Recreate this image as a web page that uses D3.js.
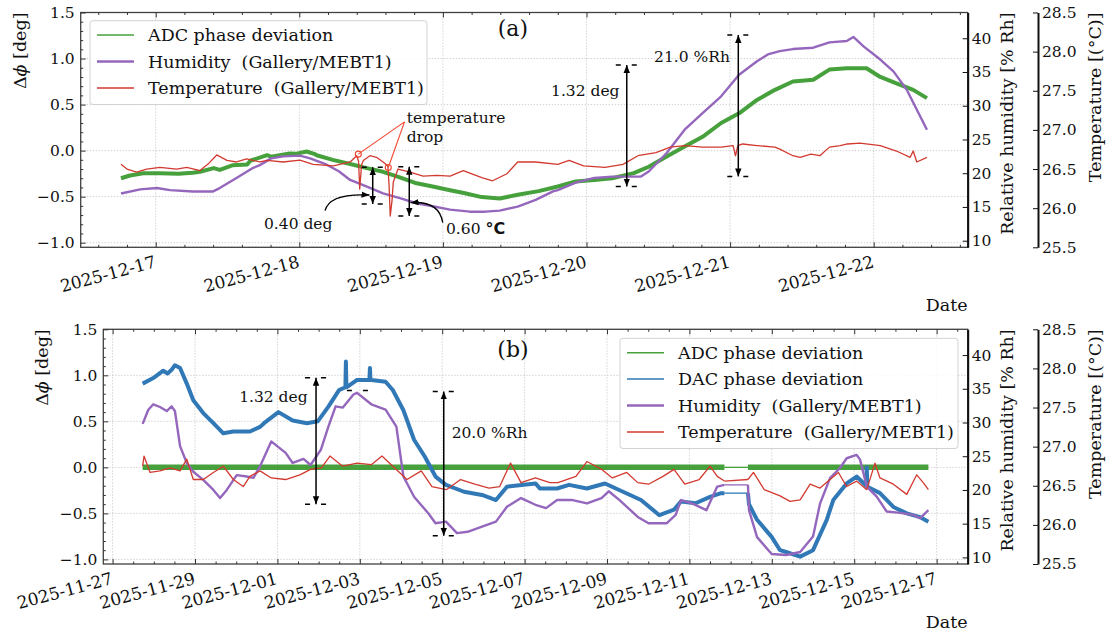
<!DOCTYPE html>
<html>
<head>
<meta charset="utf-8">
<script src="https://cdn.jsdelivr.net/npm/d3@7"></script>
<style>
body { margin: 0; background: #fff; }
svg text { font-family: "DejaVu Serif", serif; fill: #111; white-space: pre; }
</style>
</head>
<body>
<div id="chart"></div>
<script>
// ---------- data, panel (a): hours from 2025-12-17 00:00 ----------
var baseA = "2025-12-17";
var ticksA = ["2025-12-17", "2025-12-18", "2025-12-19", "2025-12-20", "2025-12-21", "2025-12-22"];

var adcA = [[-5.8,-0.30],[-4.3,-0.27],[-2.1,-0.245],[0.7,-0.245],[3.8,-0.25],[6.2,-0.24],[7.4,-0.23],[9.7,-0.19],
  [10.7,-0.21],[12.8,-0.16],[15.3,-0.15],[15.8,-0.11],[18.6,-0.05],[19.3,-0.065],[22.4,-0.03],[23.4,-0.035],
  [25.2,-0.01],[26.5,-0.035],[26.9,-0.05],[29.6,-0.10],[32.5,-0.145],[35.3,-0.19],[38.0,-0.23],[40.8,-0.29],
  [43.6,-0.355],[46.3,-0.39],[49.2,-0.43],[51.5,-0.46],[54.5,-0.505],[57.5,-0.52],[60.5,-0.48],[64.0,-0.44],
  [67.2,-0.39],[70.2,-0.335],[73.3,-0.32],[76.3,-0.30],[79.9,-0.245],[82.4,-0.175],[85.4,-0.065],[88.4,0.045],
  [91.4,0.15],[94.5,0.30],[97.5,0.405],[100.5,0.55],[103.5,0.66],[106.5,0.75],[109.9,0.77],[112.6,0.88],
  [115.5,0.895],[118.8,0.895],[121.1,0.80],[123.8,0.73],[126.6,0.66],[128.9,0.57]];

var humA = [[-5.8,17.0],[-2.6,17.6],[0.2,17.8],[2.4,17.5],[6.2,17.3],[9.6,17.3],[10.7,17.8],[13.5,19.3],
  [16.3,20.8],[17.4,21.2],[19.3,22.2],[21.3,22.5],[24.1,22.6],[25.8,22.2],[28.5,21.3],[30.6,20.3],[32.5,19.0],
  [35.3,18.0],[38.0,17.0],[40.8,16.3],[43.6,15.55],[46.3,15.1],[49.2,14.6],[52.5,14.3],[55.1,14.3],[57.5,14.45],
  [60.5,15.05],[63.5,16.05],[66.4,17.3],[67.2,17.5],[70.2,18.6],[73.3,19.3],[76.3,19.5],[81.1,19.5],[82.4,20.25],
  [85.4,23.0],[88.4,26.45],[91.4,28.9],[94.5,31.4],[97.5,34.6],[100.5,36.6],[102.3,37.6],[104.3,38.1],
  [106.5,38.4],[109.9,38.6],[112.6,39.4],[115.5,39.6],[116.6,40.2],[118.3,38.8],[121.1,36.85],[123.3,35.1],
  [125.5,32.4],[128.9,26.45]];

var tempA = [[-5.8,26.56],[-4.8,26.50],[-3.2,26.46],[-1.5,26.50],[0.7,26.52],[3.5,26.50],[5.2,26.52],[7.4,26.48],
  [8.7,26.56],[10.2,26.68],[11.9,26.61],[13.5,26.59],[15.2,26.63],[17.4,26.59],[18.6,26.61],[21.3,26.59],
  [24.1,26.615],[26.3,26.56],[29.7,26.54],[32.5,26.59],[33.6,26.67],[33.9,26.60],[34.1,26.245],[34.4,26.55],
  [34.7,26.61],[35.8,26.67],[36.9,26.65],[38.0,26.59],[38.8,26.54],[39.0,26.30],[39.2,25.90],[39.5,26.10],
  [39.7,26.33],[40.5,26.50],[42.5,26.46],[44.7,26.41],[47.0,26.42],[49.2,26.41],[51.4,26.48],[54.5,26.39],
  [56.3,26.35],[58.7,26.44],[60.5,26.59],[63.5,26.59],[67.2,26.56],[69.1,26.61],[71.5,26.54],[75.1,26.52],
  [78.1,26.56],[80.6,26.67],[83.6,26.71],[86.0,26.78],[88.4,26.80],[91.4,26.78],[94.5,26.78],[96.5,26.80],
  [96.9,26.67],[97.3,26.80],[98.1,26.82],[100.5,26.80],[103.5,26.78],[104.3,26.755],[106.5,26.67],[107.7,26.65],
  [109.5,26.69],[111.0,26.67],[112.6,26.78],[114.4,26.80],[115.6,26.82],[117.7,26.83],[121.1,26.80],[123.8,26.73],
  [126.1,26.65],[126.6,26.73],[127.2,26.59],[128.9,26.65]];

// ---------- data, panel (b): hours from 2025-11-27 00:00 ----------
var baseB = "2025-11-27";
var ticksB = ["2025-11-27", "2025-11-29", "2025-12-01", "2025-12-03", "2025-12-05", "2025-12-07",
  "2025-12-09", "2025-12-11", "2025-12-13", "2025-12-15", "2025-12-17"];
var gapB = [356.4, 370.1];

var adcB = [[17.5,0.0],[356.4,0.0],[370.1,0.0],[475.2,0.0]];

var dacB = [[17.5,0.91],[23.7,0.97],[29.5,1.05],[32.0,1.02],[34.4,1.06],[36.3,1.11],[39.3,1.08],[43.2,0.91],
  [47.0,0.73],[52.8,0.59],[58.7,0.48],[64.5,0.37],[70.3,0.39],[78.1,0.39],[80.0,0.39],[85.9,0.44],[88.2,0.48],
  [96.6,0.60],[104.9,0.51],[113.2,0.48],[119.5,0.50],[125.7,0.66],[131.9,0.84],[135.6,0.87],[135.9,1.15],
  [136.2,0.87],[137.1,0.88],[142.4,0.95],[149.6,0.95],[149.9,1.08],[150.2,0.95],[150.7,0.95],[159.0,0.93],
  [163.2,0.84],[169.4,0.62],[175.6,0.30],[181.9,0.115],[188.1,-0.10],[194.2,-0.19],[204.7,-0.265],[215.2,-0.30],
  [223.3,-0.355],[229.7,-0.21],[246.3,-0.175],[249.0,-0.23],[258.9,-0.23],[265.9,-0.19],[276.3,-0.23],
  [286.8,-0.175],[297.3,-0.265],[307.8,-0.355],[318.5,-0.52],[327.0,-0.46],[331.1,-0.37],[339.6,-0.39],
  [348.0,-0.32],[354.4,-0.28],[356.4,-0.28],[370.1,-0.28],[370.7,-0.40],[375.4,-0.57],[383.9,-0.755],
  [388.8,-0.90],[392.3,-0.92],[400.5,-0.97],[408.0,-0.90],[416.0,-0.57],[419.8,-0.355],[427.6,-0.175],
  [433.4,-0.10],[439.0,-0.20],[439.3,0.0],[439.6,-0.21],[447.0,-0.28],[454.8,-0.43],[462.6,-0.50],
  [470.3,-0.54],[475.2,-0.59]];

var humB = [[17.5,29.8],[20.8,31.9],[23.7,32.7],[27.6,32.3],[31.5,31.7],[34.4,32.4],[36.3,31.7],[39.3,26.5],
  [43.2,24.0],[47.0,22.7],[52.8,21.5],[58.7,20.0],[62.6,18.8],[66.5,20.0],[72.3,22.2],[78.1,22.0],[82.0,21.8],
  [85.9,23.5],[92.4,27.2],[100.8,25.5],[104.9,24.0],[111.2,24.6],[115.3,23.7],[121.4,26.0],[125.7,29.4],
  [129.9,32.4],[134.0,32.2],[140.3,34.15],[142.4,34.4],[150.7,32.7],[159.0,31.9],[165.3,29.4],[169.4,22.0],
  [175.6,19.0],[184.0,16.5],[188.1,15.06],[194.2,15.3],[200.6,13.6],[206.8,13.8],[215.2,14.55],[223.3,15.3],
  [229.7,17.5],[237.9,18.8],[246.3,17.8],[252.5,17.3],[258.9,18.5],[268.0,18.5],[276.3,18.0],[284.8,18.8],
  [289.0,19.8],[295.3,18.5],[305.9,16.0],[312.2,15.06],[322.7,15.06],[328.0,16.3],[331.1,18.5],[337.5,18.0],
  [345.9,17.0],[352.2,20.5],[356.4,20.75],[370.1,20.75],[370.7,17.0],[375.4,13.0],[383.9,10.5],[392.3,10.35],
  [400.5,10.8],[408.0,13.1],[412.1,18.0],[417.9,21.75],[423.7,23.25],[427.6,24.7],[433.4,25.2],[435.4,24.5],
  [439.3,20.5],[445.1,19.0],[450.9,16.8],[458.7,16.6],[466.4,16.3],[470.3,15.8],[475.2,17.0]];

var tempB = [[17.5,26.75],[18.3,26.88],[21.8,26.67],[27.6,26.69],[33.4,26.73],[39.3,26.69],[43.2,26.84],
  [47.0,26.58],[52.8,26.58],[58.7,26.67],[64.5,26.75],[70.3,26.58],[76.1,26.49],[80.0,26.62],[85.9,26.69],
  [92.4,26.60],[100.8,26.58],[109.1,26.64],[115.3,26.71],[121.6,26.73],[126.6,26.88],[134.0,26.75],[142.4,26.79],
  [150.7,26.77],[156.9,26.88],[163.2,26.75],[171.5,26.58],[179.8,26.69],[186.0,26.49],[194.4,26.45],[202.7,26.58],
  [211.0,26.52],[219.3,26.47],[225.5,26.49],[231.8,26.79],[237.9,26.54],[246.3,26.60],[254.7,26.54],[259.4,26.54],
  [269.9,26.62],[276.3,26.81],[284.8,26.71],[291.1,26.60],[299.5,26.67],[305.9,26.54],[312.2,26.52],[320.6,26.62],
  [327.0,26.71],[333.3,26.52],[341.7,26.58],[348.0,26.75],[352.2,26.62],[356.4,26.56],[370.1,26.58],[373.3,26.67],
  [379.6,26.45],[388.8,26.37],[394.6,26.30],[400.5,26.32],[406.3,26.52],[412.1,26.47],[417.9,26.58],[422.8,26.67],
  [427.6,26.49],[433.4,26.56],[439.3,26.45],[444.1,26.79],[447.0,26.60],[454.8,26.52],[462.6,26.39],[468.4,26.64],
  [472.2,26.54],[475.2,26.45]];

// ---------- axes ticks ----------
var degTicks = [-1.0, -0.5, 0.0, 0.5, 1.0, 1.5];
var humTicks = [10, 15, 20, 25, 30, 35, 40];
var tempTicks = [25.5, 26.0, 26.5, 27.0, 27.5, 28.0, 28.5];
var degDomain = [-1.05, 1.5];
var humDomain = [9.02, 43.82];
var tempDomain = [25.5, 28.5];

// ---------- annotations (data units) ----------
var arrowsA = [
  { t: 36.27, from: -0.18, to: -0.58, axis: "deg" },
  { t: 42.38, from: 26.53, to: 25.90, axis: "temp" },
  { t: 78.73, from: 0.93, to: -0.39, axis: "deg" },
  { t: 97.37, from: 40.49, to: 19.52, axis: "hum" }
];
var notesA = [
  { t: 66.07, v: 0.595, text: "1.32 deg" },
  { t: 83.3, v: 0.964, text: "21.0 %Rh" },
  { t: 18.1, v: -0.851, text: "0.40 deg" },
  { t: 41.95, v: 0.301, text: "temperature" },
  { t: 41.95, v: 0.098, text: "drop" }
];
var unitNoteA = { t: 48.52, v: -0.905, text: "0.60 ", unit: "°C" };
var curvesA = [
  { t0: 28.3, v0: -0.652, t1: 35.73, v1: -0.482 },
  { t0: 47.97, v0: -0.783, t1: 42.6, v1: -0.565 }
];
var dropOrigin = { t: 41.58, v: 0.312 };
var dropPoints = [{ t: 33.86, T: 26.69 }, { t: 38.87, T: 26.52 }];

var arrowsB = [
  { t: 118.5, from: 0.974, to: -0.40, axis: "deg" },
  { t: 192.9, from: 34.6, to: 13.2, axis: "hum" }
];
var capsB = [{ t: 142.9, v: 34.75, axis: "hum" }];
var notesB = [
  { t: 73.7, v: 0.71, text: "1.32 deg" },
  { t: 197.5, v: 0.315, text: "20.0 %Rh" }
];

var colors = { adc: "#46a03c", dac: "#3179b6", hum: "#9467bd", temp: "#d23a30" };

// ---------- drawing ----------
var HOUR = 3600000;
var parseDay = d3.timeParse("%Y-%m-%d");
var fmtDay = d3.timeFormat("%Y-%m-%d");

var svg = d3.select("#chart").append("svg")
  .attr("width", 1107).attr("height", 639);

var defs = svg.append("defs");
defs.append("marker")
  .attr("id", "ah").attr("viewBox", "0 0 10 10")
  .attr("refX", 10).attr("refY", 5)
  .attr("markerWidth", 8).attr("markerHeight", 8)
  .attr("markerUnits", "userSpaceOnUse")
  .attr("orient", "auto-start-reverse")
  .append("path").attr("d", "M0,1 L10,5 L0,9 z").attr("fill", "#000");

function drawSeries(g, s, x, y, toDate, gap) {
  var line = d3.line()
    .x(function(d) { return x(toDate(d[0])); })
    .y(function(d) { return y(d[1]); });
  var parts = [{ pts: s.data, w: s.width }];
  if (gap) {
    parts = [
      { pts: s.data.filter(function(d) { return d[0] <= gap[0]; }), w: s.width },
      { pts: s.data.filter(function(d) { return d[0] >= gap[0] && d[0] <= gap[1]; }), w: Math.min(s.width, 1.3) },
      { pts: s.data.filter(function(d) { return d[0] >= gap[1]; }), w: s.width }
    ];
  }
  parts.forEach(function(p) {
    g.append("path")
      .attr("d", line(p.pts))
      .attr("fill", "none")
      .attr("stroke", s.color)
      .attr("stroke-width", p.w)
      .attr("stroke-linejoin", "round");
  });
}

function drawLegend(g, box, items) {
  g.append("rect")
    .attr("x", box.x).attr("y", box.y).attr("width", box.w).attr("height", 16.6 + 14.4 + (items.length - 1) * 26.4)
    .attr("rx", 3)
    .attr("fill", "#fff").attr("fill-opacity", 0.85)
    .attr("stroke", "#d2d2d2").attr("stroke-width", 1);
  items.forEach(function(it, i) {
    var cy = box.y + 14.4 + i * 26.4;
    g.append("line")
      .attr("x1", box.x + 7).attr("x2", box.x + 44)
      .attr("y1", cy).attr("y2", cy)
      .attr("stroke", it.color).attr("stroke-width", it.lw);
    g.append("text")
      .attr("x", box.x + 58).attr("y", cy).attr("dy", "0.36em")
      .attr("font-size", 17.5)
      .text(it.label);
  });
}

function vArrow(g, x, y0, y1, capHalf) {
  g.append("line")
    .attr("x1", x).attr("x2", x).attr("y1", y0).attr("y2", y1)
    .attr("stroke", "#000").attr("stroke-width", 1.5)
    .attr("marker-start", "url(#ah)").attr("marker-end", "url(#ah)");
  [y0, y1].forEach(function(yy) { cap(g, x, yy, capHalf); });
}

function cap(g, x, y, half) {
  g.append("line")
    .attr("x1", x - half).attr("x2", x + half).attr("y1", y).attr("y2", y)
    .attr("stroke", "#000").attr("stroke-width", 1.5)
    .attr("stroke-dasharray", "5,11");
}

function drawPanel(cfg) {
  var g = svg.append("g");
  var base = parseDay(cfg.base);
  var toDate = function(h) { return new Date(base.getTime() + h * HOUR); };

  var x = d3.scaleTime().domain(cfg.span.map(toDate)).range([cfg.left, cfg.right]);
  var yD = d3.scaleLinear().domain(degDomain).range([cfg.bottom, cfg.top]);
  var yH = d3.scaleLinear().domain(humDomain).range([cfg.bottom, cfg.top]);
  var yT = d3.scaleLinear().domain(tempDomain).range([cfg.bottom, cfg.top]);
  var ys = { deg: yD, hum: yH, temp: yT };

  var majors = cfg.ticks.map(parseDay);
  var minors = d3.range(Math.ceil(cfg.span[0] / cfg.minor), Math.floor(cfg.span[1] / cfg.minor) + 1)
    .filter(function(k) { return (k * cfg.minor) % cfg.major !== 0; })
    .map(function(k) { return toDate(k * cfg.minor); });
  var degMinor = d3.range(-10, 16).map(function(k) { return k / 10; })
    .filter(function(v) { return Math.abs(v * 2 - Math.round(v * 2)) > 1e-6; });

  // grid
  g.append("g").selectAll("line").data(majors).join("line")
    .attr("x1", function(d) { return x(d); }).attr("x2", function(d) { return x(d); })
    .attr("y1", cfg.top).attr("y2", cfg.bottom)
    .attr("stroke", "#bdbdbd").attr("stroke-width", 0.8).attr("stroke-dasharray", "1.2,1.8");
  g.append("g").selectAll("line").data(degTicks).join("line")
    .attr("x1", cfg.left).attr("x2", cfg.right)
    .attr("y1", function(d) { return yD(d); }).attr("y2", function(d) { return yD(d); })
    .attr("stroke", "#bdbdbd").attr("stroke-width", 0.8).attr("stroke-dasharray", "1.2,1.8");

  // series
  cfg.series.forEach(function(s) { drawSeries(g, s, x, ys[s.axis], toDate, cfg.gap); });

  // frame
  g.append("rect")
    .attr("x", cfg.left).attr("y", cfg.top)
    .attr("width", cfg.right - cfg.left).attr("height", cfg.bottom - cfg.top)
    .attr("fill", "none").attr("stroke", "#404040").attr("stroke-width", 1.3);

  // x ticks (bottom and top, pointing inward)
  function xTicks(axisFn, y, vals, len) {
    var a = g.append("g").attr("transform", "translate(0," + y + ")").attr("color", "#333")
      .call(axisFn(x).tickValues(vals).tickSizeInner(-len).tickSizeOuter(0).tickFormat(""));
    a.select(".domain").remove();
  }
  xTicks(d3.axisBottom, cfg.bottom, majors, 5);
  xTicks(d3.axisBottom, cfg.bottom, minors, 2.5);
  xTicks(d3.axisTop, cfg.top, majors, 5);
  xTicks(d3.axisTop, cfg.top, minors, 2.5);

  g.append("g").selectAll("text").data(majors).join("text")
    .attr("transform", function(d) { return "translate(" + (x(d) - 2) + "," + (cfg.bottom + 8) + ") rotate(-15)"; })
    .attr("text-anchor", "end").attr("dy", "0.71em")
    .attr("font-size", 17)
    .text(function(d) { return fmtDay(d); });

  g.append("text")
    .attr("x", cfg.right).attr("y", cfg.bottom + 64)
    .attr("text-anchor", "end").attr("font-size", 17.5)
    .text("Date");

  // left axis
  var la = g.append("g").attr("transform", "translate(" + cfg.left + ",0)")
    .call(d3.axisLeft(yD).tickValues(degTicks).tickSizeInner(-5).tickSizeOuter(0).tickPadding(6)
      .tickFormat(d3.format(".1f")));
  la.attr("font-size", 15.5).attr("font-family", "DejaVu Serif, serif").attr("color", "#333");
  la.select(".domain").remove();
  la.selectAll("text").attr("fill", "#111");
  var lm = g.append("g").attr("transform", "translate(" + cfg.left + ",0)").attr("color", "#333")
    .call(d3.axisLeft(yD).tickValues(degMinor).tickSizeInner(-2.5).tickSizeOuter(0).tickFormat(""));
  lm.select(".domain").remove();

  var yl = g.append("text")
    .attr("transform", "translate(" + (cfg.left - 55) + "," + cfg.top + ") rotate(-90)")
    .attr("text-anchor", "end").attr("font-size", 17.5);
  yl.append("tspan").text("Δ");
  yl.append("tspan").attr("font-style", "italic").text("ϕ");
  yl.append("tspan").text(" [deg]");

  // humidity axis on the right frame
  var ha = g.append("g").attr("transform", "translate(" + cfg.right + ",0)")
    .call(d3.axisRight(yH).tickValues(humTicks).tickSizeInner(-5).tickSizeOuter(0).tickPadding(4)
      .tickFormat(d3.format("d")));
  ha.attr("font-size", 15.5).attr("font-family", "DejaVu Serif, serif").attr("color", "#111");
  ha.select(".domain").attr("stroke-width", 2);
  g.append("text")
    .attr("transform", "translate(" + (cfg.right + 45) + "," + cfg.top + ") rotate(-90)")
    .attr("text-anchor", "end").attr("font-size", 17.5)
    .text("Relative humidity [% Rh]");

  // temperature axis, offset spine
  var ta = g.append("g").attr("transform", "translate(" + cfg.tempX + ",0)")
    .call(d3.axisRight(yT).tickValues(tempTicks).tickSizeInner(-5).tickSizeOuter(0).tickPadding(4)
      .tickFormat(d3.format(".1f")));
  ta.attr("font-size", 15.5).attr("font-family", "DejaVu Serif, serif").attr("color", "#111");
  ta.select(".domain").attr("stroke-width", 2);
  g.append("text")
    .attr("transform", "translate(" + (cfg.tempX + 63) + "," + cfg.top + ") rotate(-90)")
    .attr("text-anchor", "end").attr("font-size", 17.5)
    .text("Temperature [(°C)]");

  // panel tag
  g.append("text")
    .attr("x", x(toDate(cfg.tag.t))).attr("y", yD(cfg.tag.v))
    .attr("text-anchor", "middle").attr("font-size", 22)
    .text(cfg.tag.text);

  drawLegend(g, cfg.legendBox, cfg.legend);

  return { g: g, x: x, ys: ys, toDate: toDate };
}

var pa = drawPanel({
  base: baseA, ticks: ticksA, span: [-12.535, 135.71], minor: 4.8, major: 24,
  left: 80.7, right: 967.7, top: 12.5, bottom: 247.3, tempX: 1038,
  series: [
    { data: adcA, axis: "deg", color: colors.adc, width: 4 },
    { data: humA, axis: "hum", color: colors.hum, width: 2.4 },
    { data: tempA, axis: "temp", color: colors.temp, width: 1.3 }
  ],
  tag: { t: 59.7, v: 1.247, text: "(a)" },
  legendBox: { x: 90, y: 20.7, w: 337 },
  legend: [
    { label: "ADC phase deviation", color: colors.adc, lw: 1.5 },
    { label: "Humidity  (Gallery/MEBT1)", color: colors.hum, lw: 2.6 },
    { label: "Temperature  (Gallery/MEBT1)", color: colors.temp, lw: 1.5 }
  ]
});

var pb = drawPanel({
  base: baseB, ticks: ticksB, span: [-5.42, 498.1], minor: 12, major: 48, gap: gapB,
  left: 103.3, right: 967.7, top: 329.3, bottom: 564, tempX: 1038,
  series: [
    { data: adcB, axis: "deg", color: colors.adc, width: 5.5 },
    { data: dacB, axis: "deg", color: colors.dac, width: 4 },
    { data: humB, axis: "hum", color: colors.hum, width: 2.4 },
    { data: tempB, axis: "temp", color: colors.temp, width: 1.3 }
  ],
  tag: { t: 233.2, v: 1.199, text: "(b)" },
  legendBox: { x: 620, y: 338.3, w: 338 },
  legend: [
    { label: "ADC phase deviation", color: colors.adc, lw: 1.5 },
    { label: "DAC phase deviation", color: colors.dac, lw: 1.5 },
    { label: "Humidity  (Gallery/MEBT1)", color: colors.hum, lw: 2.6 },
    { label: "Temperature  (Gallery/MEBT1)", color: colors.temp, lw: 1.5 }
  ]
});

// ---------- annotations, panel (a) ----------
(function() {
  var g = pa.g, x = pa.x, ys = pa.ys, td = pa.toDate;
  arrowsA.forEach(function(a) {
    vArrow(g, x(td(a.t)), ys[a.axis](a.from), ys[a.axis](a.to), 11);
  });
  notesA.forEach(function(n) {
    g.append("text").attr("x", x(td(n.t))).attr("y", ys.deg(n.v))
      .attr("font-size", 15.5).text(n.text);
  });
  var u = g.append("text").attr("x", x(td(unitNoteA.t))).attr("y", ys.deg(unitNoteA.v))
    .attr("font-size", 15.5);
  u.append("tspan").text(unitNoteA.text);
  u.append("tspan").attr("font-family", "DejaVu Sans, sans-serif").attr("font-weight", "bold")
    .attr("font-size", 16).text(unitNoteA.unit);

  curvesA.forEach(function(c) {
    var x0 = x(td(c.t0)), y0 = ys.deg(c.v0), x1 = x(td(c.t1)), y1 = ys.deg(c.v1);
    var cx = x0 + 0.1 * (x1 - x0), cy = y1 - 2;
    g.append("path")
      .attr("d", "M" + x0 + "," + y0 + " Q" + cx + "," + cy + " " + x1 + "," + y1)
      .attr("fill", "none").attr("stroke", "#000").attr("stroke-width", 1.3)
      .attr("marker-end", "url(#ah)");
  });

  var ox = x(td(dropOrigin.t)), oy = ys.deg(dropOrigin.v);
  dropPoints.forEach(function(p) {
    var px = x(td(p.t)), py = ys.temp(p.T);
    g.append("line").attr("x1", ox).attr("y1", oy).attr("x2", px).attr("y2", py)
      .attr("stroke", "#f0452c").attr("stroke-width", 1.1);
    g.append("circle").attr("cx", px).attr("cy", py).attr("r", 3)
      .attr("fill", "none").attr("stroke", "#f0452c").attr("stroke-width", 1.1);
  });
})();

// ---------- annotations, panel (b) ----------
(function() {
  var g = pb.g, x = pb.x, ys = pb.ys, td = pb.toDate;
  arrowsB.forEach(function(a) {
    vArrow(g, x(td(a.t)), ys[a.axis](a.from), ys[a.axis](a.to), 11);
  });
  capsB.forEach(function(c) { cap(g, x(td(c.t)), ys[c.axis](c.v), 11); });
  notesB.forEach(function(n) {
    g.append("text").attr("x", x(td(n.t))).attr("y", ys.deg(n.v))
      .attr("font-size", 15.5).text(n.text);
  });
})();
</script>
</body>
</html>
